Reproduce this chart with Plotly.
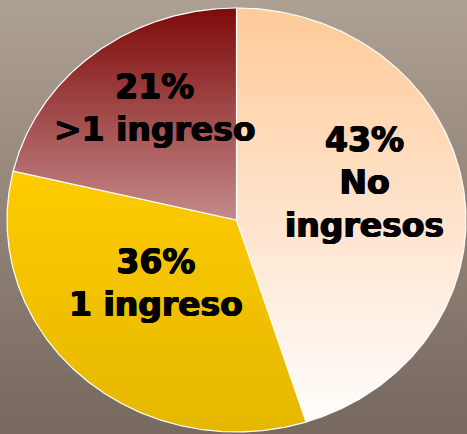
import numpy as np
import plotly.graph_objects as go

# ---- data ----
categories = ["No ingresos", "1 ingreso", ">1 ingreso"]
pct_labels = ["43%", "36%", "21%"]
# slice sizes as drawn
shares = [45.1, 33.6, 21.3]

# ---- styling ----
W, H = 467, 434
CX, CY, RX, RY = 236.5, 220.0, 229.5, 212.0
slice_scales = [
    [[0, "#FFCB98"], [0.55, "#FFE6D2"], [1, "#FFFFFF"]],
    [[0, "#FFCC00"], [1, "#E5B700"]],
    [[0, "#7E0A0A"], [1, "#C48A8A"]],
]
slice_ranges = [(CY - RY, CY + RY), (CY - 60, CY + RY), (CY - RY, CY)]
label_pos = [(364, 182), (156, 283), (155, 108)]

fig = go.Figure()

# background
fig.add_trace(go.Scatter(
    x=[0, W, W, 0, 0], y=[0, 0, H, H, 0], mode="lines", fill="toself",
    line=dict(width=0), hoverinfo="skip", showlegend=False,
    fillgradient=dict(type="vertical", start=0, stop=H,
                      colorscale=[[0, "#ADA194"], [0.5, "#918377"], [1, "#776860"]]),
))

total = float(sum(shares))
cum = np.concatenate([[0], np.cumsum(shares)]) / total * 2 * np.pi
for i, cat in enumerate(categories):
    t = np.linspace(cum[i], cum[i + 1], 240)
    xs = np.concatenate([[CX], CX + RX * np.sin(t), [CX]])
    ys = np.concatenate([[CY], CY - RY * np.cos(t), [CY]])
    fig.add_trace(go.Scatter(
        x=xs, y=ys, mode="lines", fill="toself", name=cat,
        line=dict(color="white", width=1.2), showlegend=False,
        fillgradient=dict(type="vertical", start=slice_ranges[i][0],
                          stop=slice_ranges[i][1], colorscale=slice_scales[i]),
    ))
    txt = pct_labels[i] + "<br>" + cat.replace("No ingresos", "No<br>ingresos")
    fig.add_annotation(
        x=label_pos[i][0], y=label_pos[i][1], text="<b>" + txt + "</b>",
        showarrow=False, xanchor="center", yanchor="middle",
        font=dict(family="DejaVu Sans", size=33, color="black",
                  shadow="0.7px 0 0 #000, -0.7px 0 0 #000, 0 0.5px 0 #000"),
    )

fig.update_layout(
    width=W, height=H, margin=dict(l=0, r=0, t=0, b=0),
    paper_bgcolor="#918377", plot_bgcolor="rgba(0,0,0,0)",
    xaxis=dict(range=[0, W], visible=False, fixedrange=True),
    yaxis=dict(range=[H, 0], visible=False, fixedrange=True),
    showlegend=False,
)

fig.write_html("out.html", config={"displayModeBar": False},
               post_script="document.body.style.margin='0';document.body.style.overflow='hidden';")
